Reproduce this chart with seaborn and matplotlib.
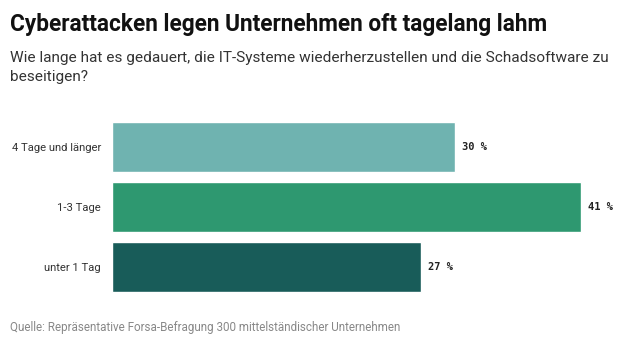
import matplotlib
matplotlib.use("Agg")
import matplotlib.pyplot as plt
import seaborn as sns
import pandas as pd

categories = ["4 Tage und länger", "1-3 Tage", "unter 1 Tag"]
values = [30, 41, 27]
colors = ["#6fb3b0", "#2e9870", "#185c59"]
value_labels = ["30 %", "41 %", "27 %"]

title = "Cyberattacken legen Unternehmen oft tagelang lahm"
subtitle = "Wie lange hat es gedauert, die IT-Systeme wiederherzustellen und die Schadsoftware zu\nbeseitigen?"
source = "Quelle: Repräsentative Forsa-Befragung 300 mittelständischer Unternehmen"

sns.set_theme(style="white")
plt.rcParams['font.family'] = ['Roboto', 'DejaVu Sans']

df = pd.DataFrame({"cat": categories, "val": values})

W, H = 640, 342
fig = plt.figure(figsize=(W / 100, H / 100), dpi=100)
ax = fig.add_axes([112 / W, 1 - 297 / H, (620 - 112) / W, 180 / H])

sns.barplot(data=df, x="val", y="cat", hue="cat", palette=colors, order=categories,
            hue_order=categories, orient="h", width=0.833, legend=False, ax=ax,
            saturation=1)

ax.set_xlim(0, (620 - 112) / 11.44)
ax.set_ylim(2.5, -0.5)
ax.set_xlabel("")
ax.set_ylabel("")
ax.set_xticks([])
for s in ax.spines.values():
    s.set_visible(False)
ax.tick_params(axis="y", length=0, pad=8, labelsize=8.1, labelcolor="#333333")

for i, (v, lab) in enumerate(zip(values, value_labels)):
    ax.text(v + 0.6, i, lab, va="center", ha="left", fontsize=7.5,
            fontweight="bold", color="#222222", family=["DejaVu Sans Mono"])

fig.text(10 / W, 1 - 25 / H, title, fontsize=16.3, fontweight="bold", color="#111111",
         va="center", ha="left")
fig.text(10 / W, 1 - 51 / H, subtitle, fontsize=11.1, color="#333333",
         va="top", ha="left", linespacing=1.5)
fig.text(10 / W, 1 - 328 / H, source, fontsize=8.4, color="#888888",
         va="center", ha="left")

fig.savefig("out.png", dpi=100)
